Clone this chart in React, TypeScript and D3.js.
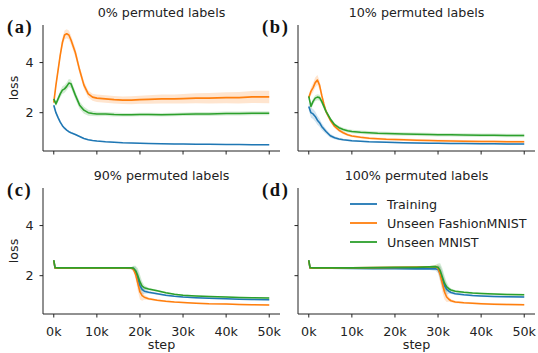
import React from 'react';
import * as d3 from 'd3';

// steps in thousands
const stepsTop = [0, 0.5, 1, 1.5, 2, 2.5, 3, 3.5, 4, 5, 6, 7, 8, 9, 10, 12, 14, 16, 18, 20, 22, 25, 28, 30, 33, 36, 40, 43, 46, 50];

// (a) 0% permuted
const trainA = [2.3, 2.0, 1.8, 1.62, 1.48, 1.38, 1.3, 1.24, 1.2, 1.13, 1.05, 0.97, 0.92, 0.89, 0.87, 0.84, 0.82, 0.8, 0.79, 0.78, 0.77, 0.76, 0.75, 0.75, 0.74, 0.74, 0.73, 0.73, 0.72, 0.72];
const fashionA = [2.4, 3.1, 3.7, 4.3, 4.8, 5.1, 5.15, 5.1, 4.9, 4.4, 3.7, 3.1, 2.75, 2.62, 2.58, 2.55, 2.52, 2.5, 2.5, 2.52, 2.53, 2.55, 2.55, 2.56, 2.58, 2.58, 2.6, 2.6, 2.63, 2.63];
const mnistA = [2.55, 2.35, 2.55, 2.75, 2.9, 2.95, 3.05, 3.18, 3.15, 2.7, 2.3, 2.1, 2.0, 1.97, 1.95, 1.95, 1.93, 1.92, 1.92, 1.93, 1.93, 1.92, 1.93, 1.94, 1.95, 1.95, 1.97, 1.97, 1.98, 1.98];
const trainSdA = [0.05, 0.05, 0.05, 0.04, 0.04, 0.04, 0.03, 0.03, 0.03, 0.03, 0.03, 0.02, 0.02, 0.02, 0.02, 0.02, 0.02, 0.02, 0.02, 0.02, 0.02, 0.02, 0.02, 0.02, 0.02, 0.02, 0.02, 0.02, 0.02, 0.02];
const fashionSdA = [0.1, 0.12, 0.15, 0.15, 0.18, 0.18, 0.18, 0.18, 0.18, 0.18, 0.16, 0.15, 0.14, 0.14, 0.15, 0.15, 0.15, 0.15, 0.16, 0.16, 0.17, 0.18, 0.18, 0.19, 0.2, 0.21, 0.22, 0.23, 0.24, 0.25];
const mnistSdA = [0.1, 0.1, 0.12, 0.14, 0.15, 0.15, 0.15, 0.16, 0.16, 0.16, 0.15, 0.14, 0.12, 0.1, 0.09, 0.08, 0.08, 0.07, 0.07, 0.07, 0.07, 0.07, 0.07, 0.07, 0.08, 0.08, 0.08, 0.08, 0.08, 0.08];

// (b) 10% permuted
const trainB = [2.25, 2.0, 1.95, 1.85, 1.7, 1.6, 1.45, 1.35, 1.25, 1.08, 1.0, 0.95, 0.92, 0.9, 0.88, 0.86, 0.84, 0.83, 0.82, 0.81, 0.8, 0.79, 0.78, 0.78, 0.77, 0.77, 0.76, 0.76, 0.75, 0.75];
const fashionB = [2.6, 2.85, 3.0, 3.2, 3.3, 3.1, 2.7, 2.35, 2.05, 1.7, 1.45, 1.3, 1.2, 1.12, 1.07, 1.02, 0.98, 0.96, 0.94, 0.93, 0.92, 0.9, 0.89, 0.88, 0.87, 0.86, 0.85, 0.85, 0.84, 0.84];
const mnistB = [2.65, 2.25, 2.45, 2.58, 2.62, 2.6, 2.45, 2.25, 2.05, 1.75, 1.52, 1.4, 1.33, 1.28, 1.25, 1.22, 1.2, 1.18, 1.17, 1.16, 1.15, 1.14, 1.13, 1.12, 1.12, 1.11, 1.1, 1.1, 1.09, 1.09];
const trainSdB = [0.15, 0.2, 0.2, 0.2, 0.18, 0.16, 0.14, 0.12, 0.1, 0.08, 0.06, 0.05, 0.04, 0.04, 0.04, 0.03, 0.03, 0.03, 0.03, 0.03, 0.03, 0.03, 0.03, 0.03, 0.03, 0.03, 0.03, 0.03, 0.03, 0.03];
const fashionSdB = [0.1, 0.15, 0.18, 0.2, 0.2, 0.18, 0.15, 0.12, 0.1, 0.08, 0.07, 0.06, 0.06, 0.05, 0.05, 0.05, 0.05, 0.05, 0.05, 0.05, 0.05, 0.05, 0.05, 0.05, 0.05, 0.05, 0.05, 0.05, 0.05, 0.05];
const mnistSdB = [0.1, 0.12, 0.12, 0.12, 0.12, 0.12, 0.1, 0.1, 0.09, 0.08, 0.07, 0.07, 0.07, 0.07, 0.07, 0.07, 0.07, 0.07, 0.07, 0.07, 0.07, 0.07, 0.07, 0.07, 0.07, 0.07, 0.07, 0.07, 0.07, 0.07];

// (c) 90% permuted
const stepsC = [0, 0.3, 1, 5, 10, 15, 18, 18.5, 19, 19.5, 20, 20.5, 21, 22, 24, 26, 28, 30, 33, 36, 40, 43, 46, 50];
const trainC = [2.6, 2.3, 2.3, 2.3, 2.3, 2.3, 2.3, 2.28, 2.15, 1.9, 1.6, 1.45, 1.38, 1.34, 1.28, 1.22, 1.18, 1.15, 1.12, 1.1, 1.08, 1.06, 1.05, 1.04];
const fashionC = [2.6, 2.3, 2.3, 2.3, 2.3, 2.3, 2.3, 2.25, 2.05, 1.7, 1.35, 1.2, 1.14, 1.08, 1.02, 0.98, 0.95, 0.93, 0.9, 0.88, 0.87, 0.85, 0.84, 0.83];
const mnistC = [2.62, 2.32, 2.31, 2.31, 2.31, 2.31, 2.31, 2.3, 2.2, 2.0, 1.75, 1.58, 1.52, 1.47, 1.4, 1.32, 1.26, 1.22, 1.19, 1.17, 1.15, 1.13, 1.12, 1.11];
const sdC = [0.02, 0.02, 0.02, 0.02, 0.02, 0.02, 0.04, 0.1, 0.2, 0.3, 0.3, 0.2, 0.1, 0.05, 0.04, 0.04, 0.03, 0.03, 0.03, 0.03, 0.03, 0.03, 0.03, 0.03];

// (d) 100% permuted
const stepsD = [0, 0.3, 1, 5, 10, 15, 20, 25, 28, 29.5, 30, 30.5, 31, 31.5, 32, 32.5, 33, 34, 36, 38, 40, 43, 46, 50];
const trainD = [2.6, 2.3, 2.3, 2.3, 2.29, 2.28, 2.28, 2.27, 2.27, 2.27, 2.25, 2.1, 1.85, 1.6, 1.45, 1.38, 1.33, 1.28, 1.24, 1.21, 1.19, 1.17, 1.16, 1.15];
const fashionD = [2.6, 2.3, 2.3, 2.3, 2.31, 2.32, 2.33, 2.34, 2.35, 2.35, 2.3, 2.05, 1.7, 1.35, 1.15, 1.06, 1.0, 0.95, 0.92, 0.9, 0.88, 0.86, 0.85, 0.84];
const mnistD = [2.62, 2.32, 2.31, 2.31, 2.31, 2.32, 2.33, 2.33, 2.35, 2.36, 2.34, 2.2, 1.95, 1.7, 1.55, 1.48, 1.43, 1.38, 1.34, 1.31, 1.29, 1.27, 1.25, 1.24];
const sdD = [0.02, 0.02, 0.02, 0.02, 0.02, 0.02, 0.02, 0.03, 0.04, 0.08, 0.15, 0.3, 0.35, 0.3, 0.2, 0.1, 0.06, 0.05, 0.04, 0.04, 0.04, 0.04, 0.04, 0.04];

const xTicks = [0, 10, 20, 30, 40, 50];
const yTicks = [2, 4];
const titles = ['0% permuted labels', '10% permuted labels', '90% permuted labels', '100% permuted labels'];
const letters = ['(a)', '(b)', '(c)', '(d)'];
const seriesNames = ['Training', 'Unseen FashionMNIST', 'Unseen MNIST'];
const colors = ['#1f77b4', '#ff7f0e', '#2ca02c'];

const panels = [
  { steps: stepsTop, vals: [trainA, fashionA, mnistA], sds: [trainSdA, fashionSdA, mnistSdA] },
  { steps: stepsTop, vals: [trainB, fashionB, mnistB], sds: [trainSdB, fashionSdB, mnistSdB] },
  { steps: stepsC, vals: [trainC, fashionC, mnistC], sds: [sdC, sdC, sdC] },
  { steps: stepsD, vals: [trainD, fashionD, mnistD], sds: [sdD, sdD, sdD] },
];

const FONT = 'DejaVu Sans, sans-serif';
const W = 237, H = 126;
const origins = [[43, 25], [298, 25], [43, 188], [298, 188]];

const x = d3.scaleLinear().domain([-2.5, 52.5]).range([0, W]);
const y = d3.scaleLinear().domain([0.47, 5.5]).range([H, 0]);

function Panel({ idx }: { idx: number }) {
  const p = panels[idx];
  const [ox, oy] = origins[idx];
  const left = idx % 2 === 0;
  const bottom = idx >= 2;
  const line = d3.line<number>().x((_, i) => x(p.steps[i])).y((v) => y(v));
  return (
    <g transform={`translate(${ox},${oy})`}>
      <text x={W / 2} y={-8.5} textAnchor="middle" fontSize={12.7} fontFamily={FONT} fill="#222">{titles[idx]}</text>
      <text x={-36} y={8} fontSize={18.5} fontWeight="bold" letterSpacing={1.6} fontFamily="Liberation Serif, serif" fill="#111">{letters[idx]}</text>
      {p.vals.map((vals, s) => {
        const area = d3.area<number>()
          .x((_, i) => x(p.steps[i]))
          .y0((v, i) => y(v - p.sds[s][i]))
          .y1((v, i) => y(v + p.sds[s][i]));
        return <path key={'a' + s} d={area(vals) || ''} fill={colors[s]} opacity={0.2} />;
      })}
      {p.vals.map((vals, s) => (
        <path key={'l' + s} d={line(vals) || ''} fill="none" stroke={colors[s]} strokeWidth={1.6} strokeLinejoin="round" />
      ))}
      <line x1={0} x2={0} y1={0} y2={H} stroke="#222" strokeWidth={1} />
      <line x1={0} x2={W} y1={H} y2={H} stroke="#222" strokeWidth={1} />
      {yTicks.map((t) => (
        <g key={'y' + t} transform={`translate(0,${y(t)})`}>
          <line x1={-3.5} x2={0} stroke="#222" />
          {left && <text x={-9.5} dy="0.36em" textAnchor="end" fontSize={12.7} fontFamily={FONT} fill="#222">{t}</text>}
        </g>
      ))}
      {xTicks.map((t) => (
        <g key={'x' + t} transform={`translate(${x(t)},${H})`}>
          <line y1={0} y2={3.5} stroke="#222" />
          {bottom && <text y={21.5} textAnchor="middle" fontSize={12.7} fontFamily={FONT} fill="#222">{t}k</text>}
        </g>
      ))}
      {left && (
        <text transform={`translate(-25,${H / 2}) rotate(-90)`} textAnchor="middle" fontSize={12.7} fontFamily={FONT} fill="#222">loss</text>
      )}
      {bottom && (
        <text x={x(25)} y={160.5} textAnchor="middle" fontSize={12.7} fontFamily={FONT} fill="#222">step</text>
      )}
      {idx === 3 && seriesNames.map((n, i) => (
        <g key={n} transform={`translate(52,${16 + i * 19})`}>
          <line x1={0} x2={27} stroke={colors[i]} strokeWidth={1.8} />
          <text x={37} dy="0.36em" fontSize={12.7} fontFamily={FONT} fill="#222">{n}</text>
        </g>
      ))}
    </g>
  );
}

export default function App() {
  return (
    <svg width={538} height={353} style={{ position: 'absolute', left: 0, top: 0, background: '#fff' }}>
      {panels.map((_, i) => <Panel key={i} idx={i} />)}
    </svg>
  );
}
